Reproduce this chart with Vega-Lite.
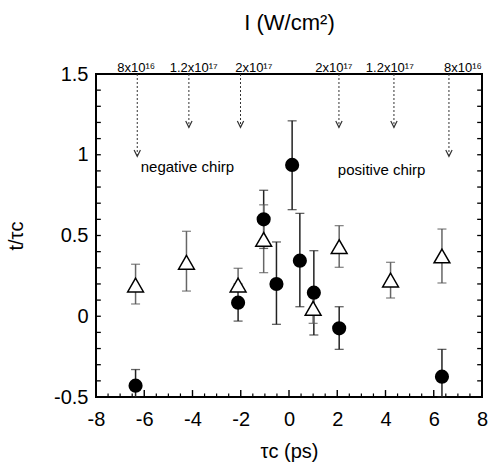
{
  "$schema": "https://vega.github.io/schema/vega-lite/v6.json",
  "width": 386,
  "height": 323,
  "autosize": {"type": "none"},
  "padding": {"left": 96, "top": 74, "right": 10, "bottom": 75},
  "config": {
    "view": {"stroke": "black", "strokeWidth": 2},
    "font": "Liberation Sans",
    "axis": {
      "labelFont": "Liberation Sans",
      "titleFont": "Liberation Sans",
      "labelColor": "black",
      "titleColor": "black",
      "tickColor": "black",
      "domain": false,
      "grid": false,
      "titleFontWeight": "normal",
      "labelOverlap": false,
      "labelFlush": false,
      "labelBound": false
    }
  },
  "datasets": {
    "circles": [
      {"x": -6.36, "y": -0.43, "lo": -0.5, "hi": -0.33},
      {"x": -2.11, "y": 0.084, "lo": -0.03, "hi": 0.2},
      {"x": -1.05, "y": 0.6, "lo": 0.42, "hi": 0.78},
      {"x": -0.52, "y": 0.2, "lo": -0.05, "hi": 0.46},
      {"x": 0.13, "y": 0.937, "lo": 0.66, "hi": 1.21},
      {"x": 0.45, "y": 0.344, "lo": 0.059, "hi": 0.637},
      {"x": 1.03, "y": 0.146, "lo": -0.116, "hi": 0.406},
      {"x": 2.08, "y": -0.075, "lo": -0.205, "hi": 0.059},
      {"x": 6.34, "y": -0.374, "lo": -0.5, "hi": -0.205}
    ],
    "triangles": [
      {"x": -6.36, "y": 0.193, "lo": 0.076, "hi": 0.322},
      {"x": -4.25, "y": 0.334, "lo": 0.156, "hi": 0.526},
      {"x": -2.11, "y": 0.193, "lo": 0.09, "hi": 0.297},
      {"x": -1.05, "y": 0.476, "lo": 0.27, "hi": 0.69},
      {"x": 1.0, "y": 0.049, "lo": -0.044, "hi": 0.14},
      {"x": 2.08, "y": 0.431, "lo": 0.303, "hi": 0.561},
      {"x": 4.21, "y": 0.224, "lo": 0.113, "hi": 0.334},
      {"x": 6.34, "y": 0.373, "lo": 0.206, "hi": 0.54}
    ],
    "arrows": [
      {"x": -6.29, "top": 1.5, "tip": 0.99},
      {"x": -4.15, "top": 1.5, "tip": 1.17},
      {"x": -2.01, "top": 1.5, "tip": 1.17},
      {"x": 2.07, "top": 1.5, "tip": 1.17},
      {"x": 4.35, "top": 1.5, "tip": 1.17},
      {"x": 6.63, "top": 1.5, "tip": 0.99}
    ],
    "intensity": [
      {"x": -6.33, "y": 1.513, "label": "8x10¹⁶"},
      {"x": -3.95, "y": 1.513, "label": "1.2x10¹⁷"},
      {"x": -1.46, "y": 1.513, "label": "2x10¹⁷"},
      {"x": 1.86, "y": 1.513, "label": "2x10¹⁷"},
      {"x": 4.18, "y": 1.513, "label": "1.2x10¹⁷"},
      {"x": 7.21, "y": 1.513, "label": "8x10¹⁶"}
    ],
    "notes": [
      {"x": -4.21, "y": 0.924, "label": "negative chirp"},
      {"x": 3.84, "y": 0.906, "label": "positive chirp"}
    ],
    "yTicks": [
      {"v": -0.4}, {"v": -0.3}, {"v": -0.2}, {"v": -0.1}, {"v": 0}, {"v": 0.1}, {"v": 0.2}, {"v": 0.3}, {"v": 0.4},
      {"v": 0.5}, {"v": 0.6}, {"v": 0.7}, {"v": 0.8}, {"v": 0.9}, {"v": 1}, {"v": 1.1}, {"v": 1.2}, {"v": 1.3}, {"v": 1.4}
    ],
    "xMajor": [{"v": -6}, {"v": -4}, {"v": -2}, {"v": 0}, {"v": 2}, {"v": 4}, {"v": 6}],
    "xMinor": [
      {"v": -7.5}, {"v": -7}, {"v": -6.5}, {"v": -5.5}, {"v": -5}, {"v": -4.5}, {"v": -3.5}, {"v": -3}, {"v": -2.5},
      {"v": -1.5}, {"v": -1}, {"v": -0.5}, {"v": 0.5}, {"v": 1}, {"v": 1.5}, {"v": 2.5}, {"v": 3}, {"v": 3.5},
      {"v": 4.5}, {"v": 5}, {"v": 5.5}, {"v": 6.5}, {"v": 7}, {"v": 7.5}
    ]
  },
  "resolve": {"axis": {"x": "independent", "y": "independent"}},
  "layer": [
    {
      "mark": {"type": "rule", "strokeDash": [2.5, 6], "strokeWidth": 2.5, "color": "black"},
      "encoding": {
        "x": {"datum": 0, "type": "quantitative", "scale": {"domain": [-8, 8], "nice": false, "zero": false}, "axis": null}
      }
    },
    {
      "data": {"name": "circles"},
      "mark": {"type": "rule", "color": "#222222", "strokeWidth": 1.5},
      "encoding": {
        "x": {
          "field": "x", "type": "quantitative",
          "scale": {"domain": [-8, 8], "nice": false, "zero": false},
          "axis": {
            "orient": "bottom",
            "values": [-8, -6, -4, -2, 0, 2, 4, 6, 8],
            "ticks": false,
            "labelPadding": 12,
            "labelFontSize": 20,
            "labelExpr": "replace(format(datum.value, '~g'), '−', '-')",
            "title": "τc (ps)",
            "titleFontSize": 20,
            "titlePadding": 12
          }
        },
        "y": {
          "field": "lo", "type": "quantitative",
          "scale": {"domain": [-0.5, 1.5], "nice": false, "zero": false},
          "axis": {
            "orient": "left",
            "values": [-0.5, 0, 0.5, 1, 1.5],
            "ticks": false,
            "labelPadding": 8,
            "labelFontSize": 20,
            "labelExpr": "replace(format(datum.value, '~g'), '−', '-')",
            "title": "t/τc",
            "titleFontSize": 20,
            "titlePadding": 27
          }
        },
        "y2": {"field": "hi"}
      }
    },
    {
      "data": {"name": "triangles"},
      "mark": {"type": "rule", "color": "#666666", "strokeWidth": 1.5},
      "encoding": {
        "x": {"field": "x", "type": "quantitative", "axis": null},
        "y": {"field": "lo", "type": "quantitative", "axis": null},
        "y2": {"field": "hi"}
      }
    },
    {
      "data": {"name": "circles"},
      "layer": [
        {"mark": {"type": "tick", "orient": "horizontal", "color": "#222222", "size": 9, "thickness": 1.3},
         "encoding": {"x": {"field": "x", "type": "quantitative", "axis": null}, "y": {"field": "lo", "type": "quantitative", "axis": null}}},
        {"mark": {"type": "tick", "orient": "horizontal", "color": "#222222", "size": 9, "thickness": 1.3},
         "encoding": {"x": {"field": "x", "type": "quantitative", "axis": null}, "y": {"field": "hi", "type": "quantitative", "axis": null}}}
      ]
    },
    {
      "data": {"name": "triangles"},
      "layer": [
        {"mark": {"type": "tick", "orient": "horizontal", "color": "#555555", "size": 9, "thickness": 1.3},
         "encoding": {"x": {"field": "x", "type": "quantitative", "axis": null}, "y": {"field": "lo", "type": "quantitative", "axis": null}}},
        {"mark": {"type": "tick", "orient": "horizontal", "color": "#555555", "size": 9, "thickness": 1.3},
         "encoding": {"x": {"field": "x", "type": "quantitative", "axis": null}, "y": {"field": "hi", "type": "quantitative", "axis": null}}}
      ]
    },
    {
      "data": {"name": "triangles"},
      "mark": {"type": "point", "shape": "triangle-up", "size": 250, "filled": true, "fill": "white", "stroke": "black", "strokeWidth": 1.5, "opacity": 1},
      "encoding": {
        "x": {"field": "x", "type": "quantitative", "axis": null},
        "y": {"field": "y", "type": "quantitative", "axis": null}
      }
    },
    {
      "data": {"name": "circles"},
      "mark": {"type": "circle", "size": 200, "color": "black", "opacity": 1},
      "encoding": {
        "x": {"field": "x", "type": "quantitative", "axis": null},
        "y": {"field": "y", "type": "quantitative", "axis": null}
      }
    },
    {
      "data": {"name": "arrows"},
      "mark": {"type": "rule", "strokeDash": [2, 2], "strokeWidth": 1, "color": "#333333"},
      "encoding": {
        "x": {
          "field": "x", "type": "quantitative",
          "axis": {"orient": "top", "ticks": false, "labels": false, "domain": false, "title": "I (W/cm²)", "titleFontSize": 22, "titlePadding": 40}
        },
        "y": {"field": "top", "type": "quantitative", "axis": null},
        "y2": {"field": "tip"}
      }
    },
    {
      "data": {"name": "arrows"},
      "mark": {"type": "point", "shape": "M-1,-2L0,0L1,-2", "size": 40, "filled": false, "stroke": "#333333", "strokeWidth": 1.2, "opacity": 1},
      "encoding": {
        "x": {"field": "x", "type": "quantitative", "axis": null},
        "y": {"field": "tip", "type": "quantitative", "axis": null}
      }
    },
    {
      "data": {"name": "intensity"},
      "mark": {"type": "text", "fontSize": 13, "baseline": "alphabetic", "align": "center", "color": "black"},
      "encoding": {
        "x": {"field": "x", "type": "quantitative", "axis": null},
        "y": {"field": "y", "type": "quantitative", "axis": null},
        "text": {"field": "label"}
      }
    },
    {
      "data": {"name": "notes"},
      "mark": {"type": "text", "fontSize": 15, "baseline": "middle", "align": "center", "color": "black"},
      "encoding": {
        "x": {"field": "x", "type": "quantitative", "axis": null},
        "y": {"field": "y", "type": "quantitative", "axis": null},
        "text": {"field": "label"}
      }
    },
    {
      "data": {"name": "yTicks"},
      "mark": {"type": "rule", "color": "black", "strokeWidth": 1.3},
      "encoding": {
        "x": {"datum": -8, "type": "quantitative", "axis": null},
        "x2": {"datum": -7.8},
        "y": {"field": "v", "type": "quantitative", "axis": null}
      }
    },
    {
      "data": {"name": "yTicks"},
      "mark": {"type": "rule", "color": "black", "strokeWidth": 1.3},
      "encoding": {
        "x": {"datum": 8, "type": "quantitative", "axis": null},
        "x2": {"datum": 7.8},
        "y": {"field": "v", "type": "quantitative", "axis": null}
      }
    },
    {
      "data": {"name": "xMajor"},
      "mark": {"type": "rule", "color": "black", "strokeWidth": 1.4},
      "encoding": {
        "x": {"field": "v", "type": "quantitative", "axis": null},
        "y": {"datum": -0.5, "type": "quantitative", "axis": null},
        "y2": {"datum": -0.457}
      }
    },
    {
      "data": {"name": "xMinor"},
      "mark": {"type": "rule", "color": "black", "strokeWidth": 1.2},
      "encoding": {
        "x": {"field": "v", "type": "quantitative", "axis": null},
        "y": {"datum": -0.5, "type": "quantitative", "axis": null},
        "y2": {"datum": -0.478}
      }
    }
  ]
}
